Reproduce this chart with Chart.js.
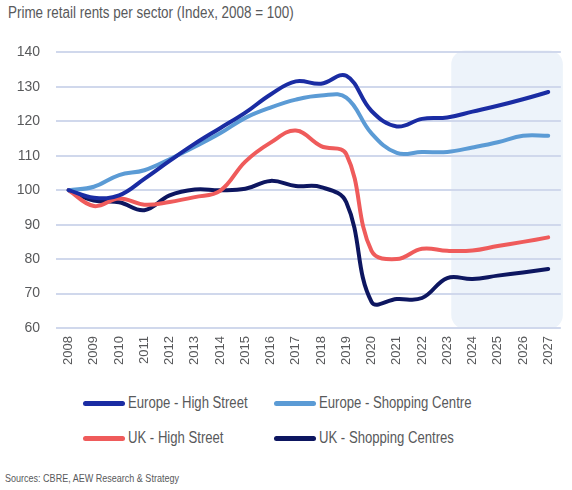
<!DOCTYPE html>
<html>
<head>
<meta charset="utf-8">
<script src="https://cdn.jsdelivr.net/npm/chart.js@4.4.1/dist/chart.umd.min.js"></script>
<style>
    body { margin: 0; width: 572px; height: 490px; background: #fff; position: relative; overflow: hidden;
           font-family: "Liberation Sans", Arial, sans-serif; color: #58595b; }
    .narrow { transform: scaleX(0.82); transform-origin: left center; white-space: nowrap; }
    #title { position: absolute; left: 8px; top: 4px; font-size: 16px; transform: scaleX(0.84); }
    #wrap { position: absolute; left: 0; top: 28px; width: 572px; height: 350px; }
    #legend { position: absolute; left: 83px; top: 394px; width: 420px; }
    .item { position: absolute; display: flex; align-items: center; font-size: 16px; white-space: nowrap; }
    .swatch { width: 42px; height: 5px; border-radius: 3px; margin-right: 3px; }
    #source { position: absolute; left: 5px; top: 472px; font-size: 11px; }
</style>
</head>
<body>
<div id="title" class="narrow">Prime retail rents per sector (Index, 2008 = 100)</div>
<div id="wrap"><canvas id="rentsChart"></canvas></div>
<div id="legend"></div>
<div id="source" class="narrow">Sources: CBRE, AEW Research &amp; Strategy</div>
<script>
// Years on the x axis
const years = ['2008', '2009', '2010', '2011', '2012', '2013', '2014', '2015', '2016', '2017',
               '2018', '2019', '2020', '2021', '2022', '2023', '2024', '2025', '2026', '2027'];

// Index values (2008 = 100)
const europeHighStreet = [100, 97.8, 98.5, 103.3, 108.5, 113.5, 118, 122.5, 127.8, 131.6,
                          130.9, 133.2, 123, 118.5, 120.7, 121.1, 122.8, 124.5, 126.4, 128.5];
const europeShoppingCentre = [100, 101, 104.4, 105.8, 109, 112.6, 116.5, 121, 124, 126.3,
                              127.5, 126.9, 116.5, 110.8, 111.1, 111.1, 112.4, 113.9, 115.8, 115.8];
const ukHighStreet = [100, 95.4, 97.6, 95.8, 96.6, 98, 99.8, 108.3, 113.8, 117.3,
                      112.8, 110.5, 82.4, 80, 83, 82.4, 82.5, 83.8, 85, 86.3];
const ukShoppingCentres = [100, 97, 96.5, 94.2, 98.5, 100.2, 100, 100.4, 102.7, 101.2,
                           100.9, 96.5, 67.6, 68.4, 68.7, 74.5, 74.2, 75.2, 76.1, 77.1];

const forecastStart = '2023';
const fontFamily = '"Liberation Sans", Arial, sans-serif';

// Shaded forecast box, drawn under the grid
const forecastBox = {
    id: 'forecastBox',
    beforeDraw(chart) {
        const { ctx, chartArea, scales } = chart;
        const left = scales.x.getPixelForValue(years.indexOf(forecastStart)) + 4;
        const right = chartArea.right + 2;
        const top = scales.y.getPixelForValue(140) - 2;
        const bottom = scales.y.getPixelForValue(60) + 1;
        ctx.save();
        ctx.fillStyle = '#edf3fa';
        ctx.beginPath();
        ctx.roundRect(left, top, right - left, bottom - top, 14);
        ctx.fill();
        ctx.restore();
    }
};

function series(label, data, color) {
    return {
        label: label,
        data: data,
        borderColor: color,
        backgroundColor: color,
        borderWidth: 4,
        pointRadius: 0,
        tension: 0.4,
        borderCapStyle: 'round'
    };
}

const chart = new Chart(document.getElementById('rentsChart'), {
    type: 'line',
    data: {
        labels: years,
        datasets: [
            series('Europe - High Street', europeHighStreet, '#1a2ca3'),
            series('Europe - Shopping Centre', europeShoppingCentre, '#5b9bd5'),
            series('UK - High Street', ukHighStreet, '#ef5b5b'),
            series('UK - Shopping Centres', ukShoppingCentres, '#0d1660')
        ]
    },
    options: {
        responsive: true,
        maintainAspectRatio: false,
        animation: false,
        layout: { padding: { top: 7, right: 7, left: 0, bottom: 0 } },
        plugins: {
            legend: { display: false },
            tooltip: { enabled: false }
        },
        scales: {
            x: {
                offset: true,
                grid: { display: false, drawTicks: false },
                border: { display: false },
                afterFit: function(scale) { scale.height = 50; },
                ticks: {
                    minRotation: 90,
                    maxRotation: 90,
                    padding: 8,
                    color: '#58595b',
                    font: { family: fontFamily, size: 13 }
                }
            },
            y: {
                min: 60,
                max: 140,
                afterFit: function(scale) { scale.width = 56; },
                grid: { color: '#d0d8ec', lineWidth: 2, drawTicks: false },
                border: { display: false },
                ticks: {
                    stepSize: 10,
                    padding: 16,
                    color: '#58595b',
                    font: { family: fontFamily, size: 14 }
                }
            }
        }
    },
    plugins: [forecastBox]
});

// Legend in two columns built from the datasets
const legendEl = document.getElementById('legend');
chart.data.datasets.forEach(function(ds, i) {
    const item = document.createElement('div');
    item.className = 'item';
    item.style.left = (i % 2) * 191 + 'px';
    item.style.top = Math.floor(i / 2) * 35 + 'px';
    item.innerHTML = '<span class="swatch" style="background:' + ds.borderColor + '"></span>' +
                     '<span class="narrow">' + ds.label + '</span>';
    legendEl.appendChild(item);
});
</script>
</body>
</html>
